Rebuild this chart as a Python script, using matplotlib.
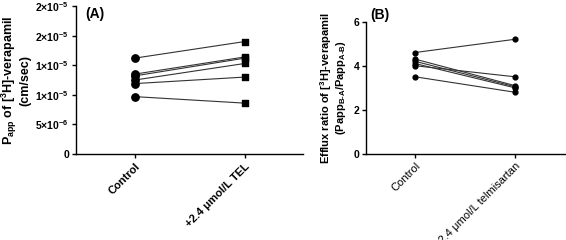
import matplotlib
matplotlib.use("Agg")
import matplotlib.pyplot as plt

plt.rcParams['font.family'] = ['Liberation Sans', 'DejaVu Sans']
plt.rcParams['font.weight'] = 'bold'
plt.rcParams['mathtext.fontset'] = 'custom'
plt.rcParams['mathtext.rm'] = 'Liberation Sans:bold'
plt.rcParams['mathtext.bf'] = 'Liberation Sans:bold'
plt.rcParams['mathtext.it'] = 'Liberation Sans:bold'
plt.rcParams['mathtext.default'] = 'bf'

groups_a = ["Control", "+2.4 \u03bcmol/L TEL"]
groups_b = ["Control", "+2.4 \u03bcmol/L telmisartan"]

# panel A, Papp per experiment (control, +TEL)
papp_control = [16.2e-6, 13.5e-6, 13.2e-6, 12.5e-6, 11.9e-6, 9.7e-6]
papp_tel = [19.0e-6, 16.4e-6, 16.2e-6, 15.3e-6, 13.0e-6, 8.6e-6]
papp_ticks = [0, 5e-6, 1e-5, 1.5e-5, 2e-5, 2.5e-5]
papp_ticklabels = ["0", "5\u00d710$^{-6}$", "1\u00d710$^{-5}$", "1\u00d710$^{-5}$",
                   "2\u00d710$^{-5}$", "2\u00d710$^{-5}$"]

# panel B, efflux ratio (control, +telmisartan)
er_control = [4.6, 4.3, 4.2, 4.1, 4.0, 3.5]
er_tel = [5.2, 3.1, 3.05, 3.0, 3.5, 2.8]
er_ticks = [0, 2, 4, 6]

fig = plt.figure(figsize=(5.66, 2.4), dpi=100)
axA = fig.add_axes([0.134, 0.358, 0.401, 0.617])
axB = fig.add_axes([0.647, 0.358, 0.353, 0.552])

for c, t in zip(papp_control, papp_tel):
    axA.plot([0, 1], [c, t], color='#333333', lw=0.8, zorder=1)
axA.scatter([0] * len(papp_control), papp_control, marker='o', s=28, color='black', zorder=2)
axA.scatter([1] * len(papp_tel), papp_tel, marker='s', s=16, color='black', zorder=2)
axA.set_xlim(-0.536, 1.527)
axA.set_ylim(0, 2.5e-5)
axA.set_yticks(papp_ticks)
axA.set_yticklabels(papp_ticklabels)
axA.set_ylabel("P$_{app}$ of [$^{3}$H]-verapamil\n(cm/sec)", fontsize=9, fontweight='bold',
               labelpad=3, linespacing=1.0)
axA.text(-0.45, 2.3e-5, "(A)", fontsize=10, fontweight='bold')

for c, t in zip(er_control, er_tel):
    axB.plot([0, 1], [c, t], color='#333333', lw=0.8, zorder=1)
axB.scatter([0] * len(er_control), er_control, marker='o', s=12, color='black', zorder=2)
axB.scatter([1] * len(er_tel), er_tel, marker='o', s=12, color='black', zorder=2)
axB.set_xlim(-0.49, 1.51)
axB.set_ylim(0, 6)
axB.set_yticks(er_ticks)
axB.set_ylabel("Efflux ratio of [$^{3}$H]-verapamil\n(Papp$_{B\u2010A}$/Papp$_{A\u2010B}$)", fontsize=8,
               fontweight='bold', labelpad=4, linespacing=1.0)
axB.text(0.02, 1.0, "(B)", fontsize=10, fontweight='bold', transform=axB.transAxes, va='bottom')

for ax, labels, wt in ((axA, groups_a, 'bold'), (axB, groups_b, 'normal')):
    ax.set_xticks([0, 1])
    ax.set_xticklabels(labels, rotation=45, ha='right', rotation_mode='anchor', fontsize=8, fontweight=wt)
    ax.spines['top'].set_visible(False)
    ax.spines['right'].set_visible(False)
    ax.spines['left'].set_linewidth(1.0)
    ax.spines['bottom'].set_linewidth(1.0)
    ax.tick_params(axis='both', length=3, width=1.0, pad=2)
    ax.tick_params(axis='y', labelsize=7.5)

fig.savefig("out.png", dpi=100)
